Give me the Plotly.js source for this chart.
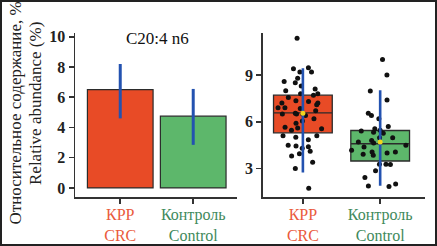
<!DOCTYPE html>
<html>
<head>
<meta charset="utf-8">
<script src="https://cdn.plot.ly/plotly-3.0.1.min.js"></script>
<style>
  html, body { margin: 0; padding: 0; background: #fff; }
  #wrap { position: relative; width: 437px; height: 246px; }
  #chart { width: 437px; height: 246px; }
  #frame { position: absolute; left: 0; top: 0; width: 437px; height: 246px; box-sizing: border-box; border: 2px solid #222; pointer-events: none; }
</style>
</head>
<body>
<div id="wrap"><div id="chart"></div><div id="frame"></div></div>
<script>
// ---- data ----
const categories = ["CRC", "Control"];
const tickLabels = ["КРР<br>CRC", "Контроль<br>Control"];
const labelColors = ["#ea5a3c", "#3f8a5c"];
const fillColors = ["#e84b26", "#5db76b"];

// left panel: mean relative abundance with error range
const barMeans = [6.5, 4.75];
const barErrLow = [4.6, 2.85];
const barErrHigh = [8.2, 6.55];

// right panel: box statistics
const boxQ1 = [5.29, 3.48];
const boxMedian = [6.57, 4.59];
const boxQ3 = [7.71, 5.44];
const boxMean = [6.55, 4.7];
const rangeLow = [2.75, 1.9];
const rangeHigh = [9.43, 8.03];

// individual samples
const crcValues = [11.37, 9.4, 9.2, 9.47, 8.8, 9.2, 8.58, 8.5, 8.3, 8.1, 8.0, 7.8, 7.8, 7.7,
  7.56, 7.35, 7.2, 7.3, 7.1, 6.9, 7.2, 6.9, 6.7, 6.85, 6.5, 6.55, 6.5, 6.5, 6.4, 6.05, 6.2,
  5.9, 5.6, 5.65, 5.55, 5.45, 5.0, 5.1, 5.1, 4.85, 4.5, 4.3, 4.4, 4.45, 3.95, 3.8, 3.4, 3.0,
  1.73, 4.1];
const controlValues = [10.0, 9.0, 7.98, 7.4, 6.54, 6.4, 6.2, 5.7, 5.55, 5.4, 5.33, 5.45, 5.27,
  4.97, 4.97, 4.8, 4.7, 4.64, 4.49, 4.38, 4.17, 4.06, 3.92, 4.06, 4.0, 3.28, 3.28, 3.26, 2.86,
  2.43, 2.0, 1.88, 1.84, 3.85];

const chartTitle = "C20:4 n6";
const yTitle1 = "Относительное содержание, %";
const yTitle2 = "Relative abundance (%)";

// ---- styling ----
const FONT = "Liberation Serif";
const AX = "#333";
const BLUE = "#2352b0";
const W = 437, H = 246;
const px = v => v / W;
const py = v => 1 - v / H;

const styledTicks = tickLabels.map((t, i) => `<span style="color:${labelColors[i]}">${t}</span>`);

const traces = [];

// left bars
traces.push({
  type: "bar", x: categories, y: barMeans, xaxis: "x", yaxis: "y",
  width: 0.9,
  marker: { color: fillColors, line: { color: "#2b2b2b", width: 1.2 } },
  error_y: {
    type: "data", symmetric: false,
    array: barErrHigh.map((h, i) => h - barMeans[i]),
    arrayminus: barErrLow.map((l, i) => barMeans[i] - l),
    color: BLUE, thickness: 3, width: 0
  },
  hoverinfo: "skip", showlegend: false
});

// right boxes (precomputed stats, no whiskers)
categories.forEach((c, i) => {
  traces.push({
    type: "box", x: [c], xaxis: "x2", yaxis: "y2",
    q1: [boxQ1[i]], median: [boxMedian[i]], q3: [boxQ3[i]],
    lowerfence: [boxQ1[i]], upperfence: [boxQ3[i]],
    width: 0.76, fillcolor: fillColors[i],
    line: { color: "#2b2b2b", width: 1.3 },
    boxpoints: false, hoverinfo: "skip", showlegend: false
  });
});

// right jittered points
[crcValues, controlValues].forEach((vals, i) => {
  traces.push({
    type: "box", x: vals.map(() => categories[i]), y: vals, xaxis: "x2", yaxis: "y2",
    width: 0.76, boxpoints: "all", jitter: 1, pointpos: 0,
    fillcolor: "rgba(0,0,0,0)", line: { color: "rgba(0,0,0,0)", width: 0 },
    marker: { color: "#111", size: 5 },
    hoverinfo: "skip", showlegend: false
  });
});

// mean with blue range line
traces.push({
  type: "scatter", mode: "markers", x: categories, y: boxMean, xaxis: "x2", yaxis: "y2",
  marker: { color: "#f2d41c", size: 5 },
  error_y: {
    type: "data", symmetric: false,
    array: rangeHigh.map((h, i) => h - boxMean[i]),
    arrayminus: rangeLow.map((l, i) => boxMean[i] - l),
    color: BLUE, thickness: 2.6, width: 0
  },
  hoverinfo: "skip", showlegend: false
});

const axisCommon = {
  showline: true, linecolor: AX, linewidth: 1.5,
  ticks: "outside", ticklen: 5, tickwidth: 1.5, tickcolor: AX,
  showgrid: false, zeroline: false, fixedrange: true,
  tickfont: { family: FONT, size: 16, color: "#222", weight: "bold" }
};

const xTickFont = { family: FONT, size: 16 };

const layout = {
  width: W, height: H,
  margin: { l: 0, r: 0, t: 0, b: 0 },
  paper_bgcolor: "#fff", plot_bgcolor: "#fff",
  boxmode: "overlay",
  bargap: 0,
  font: { family: FONT, color: "#222" },
  xaxis: Object.assign({}, axisCommon, {
    domain: [px(75), px(237)], anchor: "y",
    type: "category", range: [-0.62, 1.6],
    tickvals: categories, ticktext: styledTicks,
    tickfont: xTickFont, ticklabelstandoff: -3
  }),
  yaxis: Object.assign({}, axisCommon, {
    domain: [py(197), py(33)], anchor: "x",
    range: [-0.6, 10.25], tickvals: [0, 2, 4, 6, 8, 10]
  }),
  xaxis2: Object.assign({}, axisCommon, {
    domain: [px(262.7), px(425)], anchor: "y2",
    type: "category", range: [-0.52, 1.58],
    tickvals: categories, ticktext: styledTicks,
    tickfont: xTickFont, ticklabelstandoff: -3
  }),
  yaxis2: Object.assign({}, axisCommon, {
    domain: [py(197), py(33)], anchor: "x2",
    range: [1.17, 11.7], tickvals: [3, 6, 9]
  }),
  annotations: [
    { text: chartTitle, xref: "paper", yref: "paper", x: px(157), y: py(38),
      xanchor: "center", yanchor: "middle", showarrow: false,
      font: { family: FONT, size: 17, color: "#111" } },
    { text: yTitle1, xref: "paper", yref: "paper", x: px(15), y: py(113.5),
      xanchor: "center", yanchor: "middle", showarrow: false, textangle: -90,
      font: { family: FONT, size: 17, color: "#222" } },
    { text: yTitle2, xref: "paper", yref: "paper", x: px(35), y: py(104),
      xanchor: "center", yanchor: "middle", showarrow: false, textangle: -90,
      font: { family: FONT, size: 17, color: "#222" } }
  ]
};

Plotly.newPlot("chart", traces, layout, { staticPlot: true, displayModeBar: false });
</script>
</body>
</html>
